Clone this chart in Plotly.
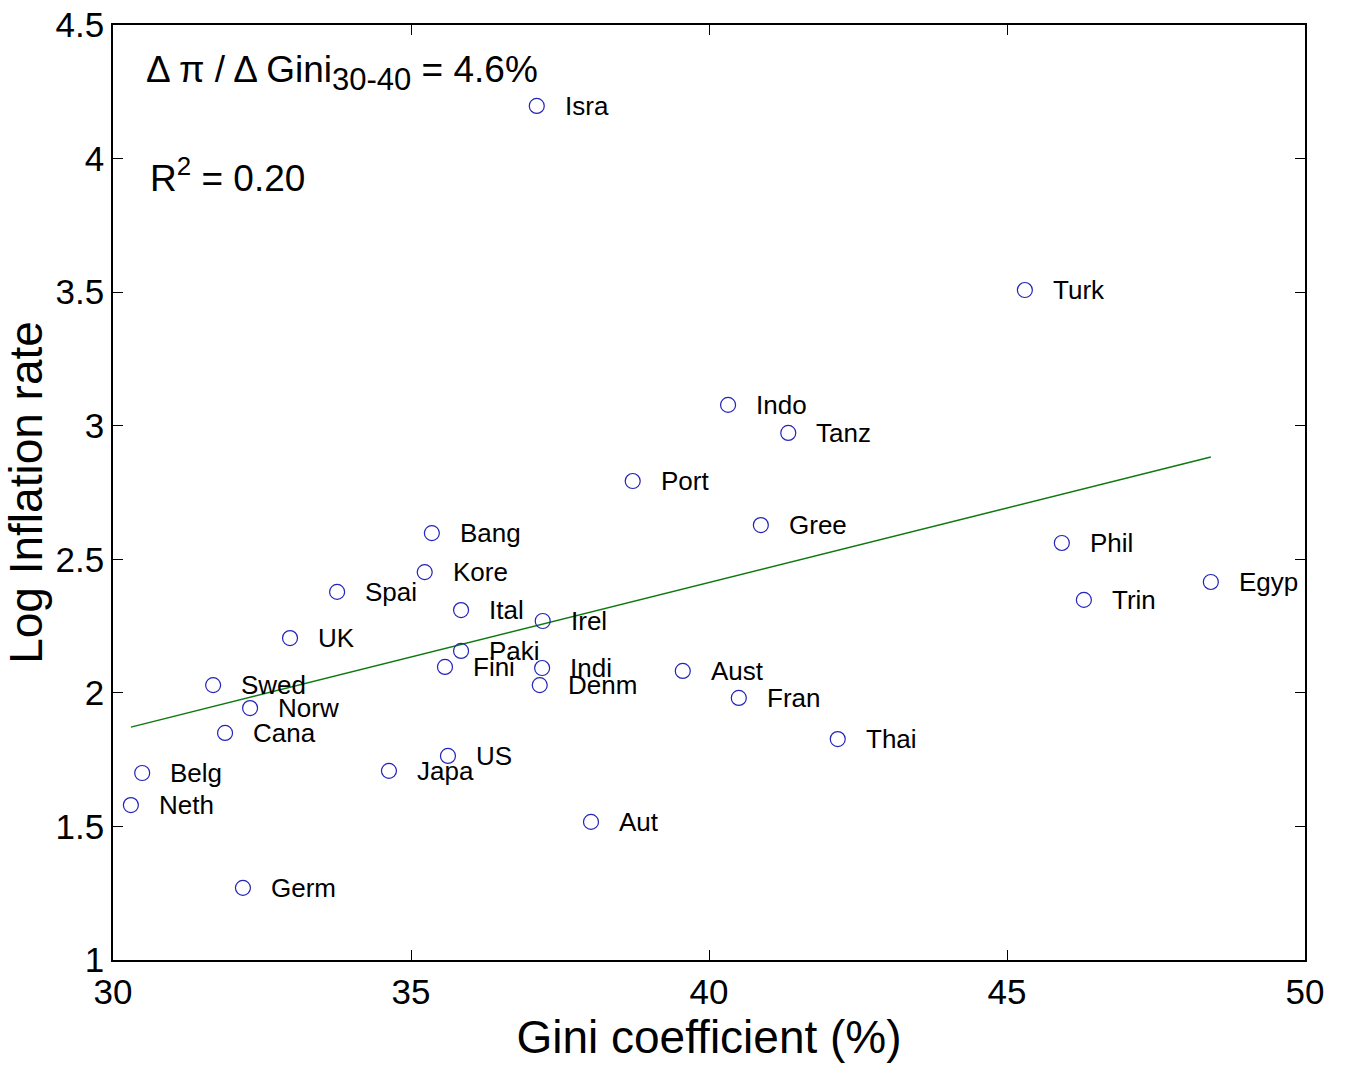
import plotly.graph_objects as go

# ---- data ----
countries = ["Isra", "Turk", "Indo", "Tanz", "Port", "Gree", "Bang", "Phil", "Kore", "Egyp",
             "Spai", "Trin", "Ital", "Irel", "UK", "Paki", "Fini", "Indi", "Aust", "Swed",
             "Denm", "Fran", "Norw", "Cana", "Thai", "US", "Japa", "Belg", "Neth", "Aut", "Germ"]
gini = [37.11, 45.30, 40.32, 41.33, 38.72, 40.87, 35.35, 45.92, 35.23, 48.42,
        33.76, 46.29, 35.84, 37.21, 32.97, 35.84, 35.57, 37.20, 39.56, 31.68,
        37.16, 40.50, 32.30, 31.88, 42.16, 35.62, 34.63, 30.49, 30.30, 38.02, 32.18]
log_inflation = [4.197, 3.508, 3.078, 2.973, 2.793, 2.628, 2.598, 2.561, 2.452, 2.415,
                 2.378, 2.348, 2.310, 2.269, 2.205, 2.157, 2.097, 2.093, 2.082, 2.029,
                 2.029, 1.981, 1.943, 1.850, 1.827, 1.764, 1.708, 1.700, 1.580, 1.517, 1.270]

fit_slope = 0.0558
fit_intercept = 0.181

x_ticks = [30, 35, 40, 45, 50]
x_tick_text = ["30", "35", "40", "45", "50"]
y_ticks = [1, 1.5, 2, 2.5, 3, 3.5, 4, 4.5]
y_tick_text = ["1", "1.5", "2", "2.5", "3", "3.5", "4", "4.5"]

FONT = "Liberation Sans, Arial, sans-serif"

fig = go.Figure()

fit_x = [min(gini), max(gini)]
fit_y = [fit_intercept + fit_slope * v for v in fit_x]
fig.add_trace(go.Scatter(x=fit_x, y=fit_y, mode="lines",
                         line=dict(color="rgb(15,120,15)", width=1.5),
                         showlegend=False, hoverinfo="skip"))

fig.add_trace(go.Scatter(x=gini, y=log_inflation, mode="markers",
                         marker=dict(symbol="circle-open", size=15,
                                     color="rgb(35,35,185)", line=dict(width=1.2)),
                         text=countries, showlegend=False))

for name, gx, gy in zip(countries, gini, log_inflation):
    fig.add_annotation(x=gx, y=gy, text=name, xanchor="left", yanchor="middle",
                       xshift=26, showarrow=False,
                       font=dict(family=FONT, size=26, color="black"))

fig.add_annotation(xref="paper", yref="paper", x=0.026, y=0.949,
                   xanchor="left", yanchor="middle", showarrow=False,
                   text="Δ π / Δ Gini<sub><span style='font-size:31px'>30-40</span></sub> = 4.6%",
                   font=dict(family=FONT, size=37, color="black"))
fig.add_annotation(xref="paper", yref="paper", x=0.029, y=0.839,
                   xanchor="left", yanchor="middle", showarrow=False,
                   text="R<sup>2</sup> = 0.20",
                   font=dict(family=FONT, size=37, color="black"))

axis_common = dict(showline=True, linecolor="black", linewidth=1.5, mirror="ticks",
                   ticks="inside", ticklen=10, tickwidth=1, tickcolor="black",
                   showgrid=False, zeroline=False,
                   tickfont=dict(family=FONT, size=35, color="black"))

fig.update_xaxes(range=[30, 50], tickvals=x_ticks, ticktext=x_tick_text,
                 title=dict(text="Gini coefficient (%)", standoff=10,
                            font=dict(family=FONT, size=46, color="black")),
                 **axis_common)
fig.update_yaxes(range=[1, 4.5], tickvals=y_ticks, ticktext=y_tick_text,
                 title=dict(text="Log Inflation rate", standoff=0,
                            font=dict(family=FONT, size=46, color="black")),
                 **axis_common)

fig.update_layout(width=1346, height=1067,
                  margin=dict(l=113, r=41, t=25, b=107, autoexpand=False),
                  plot_bgcolor="white", paper_bgcolor="white",
                  font=dict(family=FONT, color="black"))

fig.write_html("out.html", config={"displayModeBar": False},
               post_script="document.body.style.margin='0px';")
